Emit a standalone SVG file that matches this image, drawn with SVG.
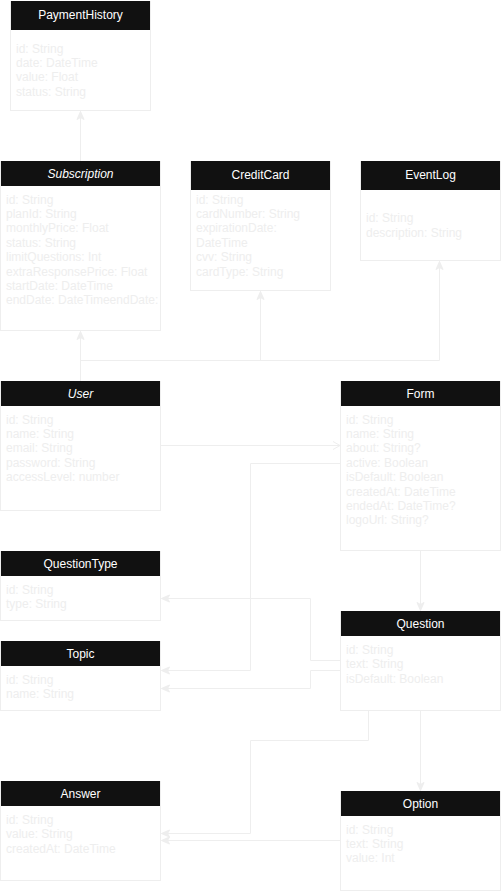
<svg xmlns="http://www.w3.org/2000/svg" width="501" height="891" viewBox="0 0 501 891">
<style>
.body{fill:#ffffff;stroke:#eeeeee;stroke-width:1}
.hdr{fill:#111111}
.title{font-family:"Liberation Sans",Arial,sans-serif;font-size:12px;fill:#ffffff;text-anchor:middle}
.it{font-style:italic}
.attr{font-family:"Liberation Sans",Arial,sans-serif;font-size:12px;fill:#eeeeee}
.edge{fill:none;stroke:#eeeeee;stroke-width:1}
</style>
<defs>
<marker id="blk" markerUnits="userSpaceOnUse" markerWidth="12" markerHeight="12" viewBox="-10 -6 12 12" refX="0" refY="0" orient="auto">
<path d="M0,0 L-8,-3.5 L-6,0 L-8,3.5 Z" fill="#eeeeee" stroke="#eeeeee" stroke-width="1"/>
</marker>
<marker id="open" markerUnits="userSpaceOnUse" markerWidth="12" markerHeight="12" viewBox="-10 -6 12 12" refX="0" refY="0" orient="auto">
<path d="M-7,-4 L0,0 L-7,4" fill="none" stroke="#eeeeee" stroke-width="1"/>
</marker>
</defs>

<g id="connectors">
<path class="edge" d="M80.5,161 V111.5" marker-end="url(#blk)"/>
<path class="edge" d="M80.5,381 V331.5" marker-end="url(#blk)"/>
<path class="edge" d="M80.5,381 V360.5 H260.5 V291.5" marker-end="url(#blk)"/>
<path class="edge" d="M80.5,381 V360.5 H439.5 V261.5" marker-end="url(#blk)"/>
<path class="edge" d="M160.5,445.5 H340" marker-end="url(#open)"/>
<path class="edge" d="M420.5,550.5 V610.5" marker-end="url(#blk)"/>
<path class="edge" d="M340.5,660.5 H310.5 V598.5 H161.5" marker-end="url(#blk)"/>
<path class="edge" d="M340.5,463.5 H250.5 V670.5 H161.5" marker-end="url(#blk)"/>
<path class="edge" d="M340.5,670.5 H310.5 V688.5 H161.5" marker-end="url(#blk)"/>
<path class="edge" d="M368.5,710.5 V740.5 H250.5 V833.5 H161.5" marker-end="url(#blk)"/>
<path class="edge" d="M420.5,710.5 V790.5" marker-end="url(#blk)"/>
<path class="edge" d="M340.5,840.5 H161.5" marker-end="url(#blk)"/>
</g>

<g id="PaymentHistory">
<rect class="body" x="10.5" y="1.5" width="140" height="109"/>
<rect class="hdr" x="11" y="1" width="139" height="29"/>
<text class="title" x="80.5" y="19">PaymentHistory</text>
<text class="attr" x="16" y="52.5">id: String</text>
<text class="attr" x="16" y="66.9">date: DateTime</text>
<text class="attr" x="16" y="81.3">value: Float</text>
<text class="attr" x="16" y="95.7">status: String</text>
</g>

<g id="Subscription">
<rect class="body" x="0.5" y="161.5" width="160" height="169"/>
<rect class="hdr" x="1" y="161" width="159" height="25"/>
<text class="title it" x="80.5" y="178">Subscription</text>
<text class="attr" x="6" y="203.5">id: String</text>
<text class="attr" x="6" y="217.9">planId: String</text>
<text class="attr" x="6" y="232.3">monthlyPrice: Float</text>
<text class="attr" x="6" y="246.7">status: String</text>
<text class="attr" x="6" y="261.1">limitQuestions: Int</text>
<text class="attr" x="6" y="275.5">extraResponsePrice: Float</text>
<text class="attr" x="6" y="289.9">startDate: DateTime</text>
<text class="attr" x="6" y="304.3">endDate: DateTimeendDate:</text>
</g>

<g id="CreditCard">
<rect class="body" x="190.5" y="161.5" width="140" height="129"/>
<rect class="hdr" x="191" y="161" width="139" height="29"/>
<text class="title" x="260.5" y="179">CreditCard</text>
<text class="attr" x="196" y="203.5">id: String</text>
<text class="attr" x="196" y="217.9">cardNumber: String</text>
<text class="attr" x="196" y="232.3">expirationDate:</text>
<text class="attr" x="196" y="246.7">DateTime</text>
<text class="attr" x="196" y="261.1">cvv: String</text>
<text class="attr" x="196" y="275.5">cardType: String</text>
</g>

<g id="EventLog">
<rect class="body" x="360.5" y="161.5" width="140" height="99"/>
<rect class="hdr" x="361" y="161" width="139" height="29"/>
<text class="title" x="430.5" y="179">EventLog</text>
<text class="attr" x="366" y="222">id: String</text>
<text class="attr" x="366" y="236.9">description: String</text>
</g>

<g id="User">
<rect class="body" x="0.5" y="381.5" width="160" height="129"/>
<rect class="hdr" x="1" y="381" width="159" height="25"/>
<text class="title it" x="80.5" y="398">User</text>
<text class="attr" x="6" y="423.5">id: String</text>
<text class="attr" x="6" y="437.9">name: String</text>
<text class="attr" x="6" y="452.3">email: String</text>
<text class="attr" x="6" y="466.7">password: String</text>
<text class="attr" x="6" y="481.1">accessLevel: number</text>
</g>

<g id="Form">
<rect class="body" x="340.5" y="381.5" width="160" height="169"/>
<rect class="hdr" x="341" y="381" width="159" height="25"/>
<text class="title" x="420.5" y="398">Form</text>
<text class="attr" x="346" y="423.5">id: String</text>
<text class="attr" x="346" y="437.9">name: String</text>
<text class="attr" x="346" y="452.3">about: String?</text>
<text class="attr" x="346" y="466.7">active: Boolean</text>
<text class="attr" x="346" y="481.1">isDefault: Boolean</text>
<text class="attr" x="346" y="495.5">createdAt: DateTime</text>
<text class="attr" x="346" y="509.9">endedAt: DateTime?</text>
<text class="attr" x="346" y="524.3">logoUrl: String?</text>
</g>

<g id="QuestionType">
<rect class="body" x="0.5" y="551.5" width="160" height="69"/>
<rect class="hdr" x="1" y="551" width="159" height="25"/>
<text class="title" x="80.5" y="568">QuestionType</text>
<text class="attr" x="6" y="594">id: String</text>
<text class="attr" x="6" y="608.4">type: String</text>
</g>

<g id="Topic">
<rect class="body" x="0.5" y="641.5" width="160" height="69"/>
<rect class="hdr" x="1" y="641" width="159" height="25"/>
<text class="title" x="80.5" y="658">Topic</text>
<text class="attr" x="6" y="683.5">id: String</text>
<text class="attr" x="6" y="697.9">name: String</text>
</g>

<g id="Question">
<rect class="body" x="340.5" y="611.5" width="160" height="99"/>
<rect class="hdr" x="341" y="611" width="159" height="25"/>
<text class="title" x="420.5" y="628">Question</text>
<text class="attr" x="346" y="654">id: String</text>
<text class="attr" x="346" y="668.4">text: String</text>
<text class="attr" x="346" y="682.8">isDefault: Boolean</text>
</g>

<g id="Answer">
<rect class="body" x="0.5" y="781.5" width="160" height="99"/>
<rect class="hdr" x="1" y="781" width="159" height="25"/>
<text class="title" x="80.5" y="798">Answer</text>
<text class="attr" x="6" y="824">id: String</text>
<text class="attr" x="6" y="838.4">value: String</text>
<text class="attr" x="6" y="852.8">createdAt: DateTime</text>
</g>

<g id="Option">
<rect class="body" x="340.5" y="791.5" width="160" height="99"/>
<rect class="hdr" x="341" y="791" width="159" height="25"/>
<text class="title" x="420.5" y="808">Option</text>
<text class="attr" x="346" y="833.5">id: String</text>
<text class="attr" x="346" y="847.9">text: String</text>
<text class="attr" x="346" y="862.3">value: Int</text>
</g>
</svg>
